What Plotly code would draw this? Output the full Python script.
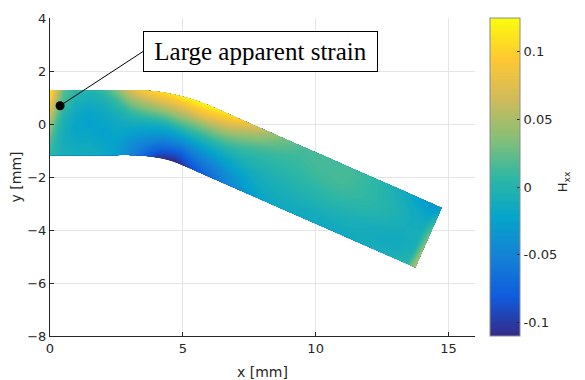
import numpy as np
import plotly.graph_objects as go

# ---- specimen centreline (mm) ----
center_x = [0.0, 0.25, 0.5, 1.0, 1.5, 2.0, 2.5, 3.05, 3.489, 3.927, 4.359, 4.786,
            5.204, 5.613, 6.477, 7.340, 8.204, 9.068, 9.932, 10.795, 11.659,
            12.523, 13.386, 13.95, 14.25]
center_y = [0.055, 0.055, 0.055, 0.055, 0.055, 0.055, 0.055, 0.055, 0.040, -0.006,
            -0.081, -0.186, -0.320, -0.483, -0.863, -1.243, -1.624, -2.004,
            -2.384, -2.764, -3.144, -3.525, -3.905, -4.153, -4.285]
half_width = 1.23
across = [-1.0, -2 / 3, -1 / 3, 0.0, 1 / 3, 2 / 3, 1.0]   # bottom edge -> top edge

# ---- H_xx at each station, bottom edge -> top edge ----
hxx_by_station = [
    [0.005, 0.015, 0.03, 0.05, 0.075, 0.095, 0.115],
    [0.0, 0.0, 0.005, 0.015, 0.03, 0.05, 0.07],
    [-0.005, -0.01, -0.01, -0.005, 0.005, 0.015, 0.025],
    [-0.01, -0.015, -0.02, -0.02, -0.015, -0.005, 0.005],
    [-0.01, -0.015, -0.02, -0.025, -0.02, -0.01, 0.0],
    [-0.015, -0.02, -0.025, -0.02, -0.015, -0.005, 0.01],
    [-0.025, -0.025, -0.02, -0.015, -0.005, 0.01, 0.035],
    [-0.05, -0.04, -0.025, -0.01, 0.01, 0.04, 0.075],
    [-0.065, -0.05, -0.03, -0.01, 0.02, 0.055, 0.095],
    [-0.085, -0.06, -0.035, -0.01, 0.025, 0.065, 0.105],
    [-0.105, -0.07, -0.04, -0.01, 0.03, 0.07, 0.11],
    [-0.11, -0.075, -0.04, -0.005, 0.035, 0.075, 0.118],
    [-0.11, -0.075, -0.04, 0.0, 0.035, 0.08, 0.122],
    [-0.095, -0.065, -0.035, 0.0, 0.035, 0.08, 0.12],
    [-0.07, -0.05, -0.025, 0.0, 0.03, 0.065, 0.105],
    [-0.045, -0.03, -0.015, 0.0, 0.015, 0.04, 0.07],
    [-0.025, -0.015, -0.008, 0.0, 0.008, 0.02, 0.035],
    [-0.015, -0.01, -0.005, 0.003, 0.008, 0.012, 0.018],
    [-0.015, -0.01, -0.002, 0.005, 0.012, 0.015, 0.016],
    [-0.015, -0.01, -0.002, 0.007, 0.013, 0.016, 0.016],
    [-0.015, -0.01, -0.005, 0.003, 0.008, 0.008, 0.008],
    [-0.01, -0.012, -0.01, -0.003, 0.0, -0.002, -0.006],
    [-0.005, -0.012, -0.012, -0.01, -0.01, -0.015, -0.025],
    [0.005, -0.003, -0.008, -0.008, -0.012, -0.022, -0.035],
    [0.06, 0.05, 0.04, 0.03, 0.015, -0.005, -0.035],
]

cbar_ticks = [-0.1, -0.05, 0, 0.05, 0.1]
cbar_ticktext = ["-0.1", "-0.05", "0", "0.05", "0.1"]
hxx_min, hxx_max = -0.11, 0.125

marker_point = (0.38, 0.69)
label_anchor = (3.5, 2.735)
label_text = "Large apparent strain"

parula = [
    [0.0, "#352a87"], [0.125, "#0f5cdd"], [0.25, "#1481d6"], [0.375, "#06a4ca"],
    [0.5, "#2eb7a4"], [0.625, "#87bf77"], [0.75, "#d1bb59"], [0.875, "#fec832"],
    [1.0, "#f9fb0e"],
]

# ---- build curvilinear grid ----
cx = np.array(center_x)
cy = np.array(center_y)
tx = np.gradient(cx)
ty = np.gradient(cy)
nrm = np.hypot(tx, ty)
tx, ty = tx / nrm, ty / nrm
nx, ny = -ty, tx
t = np.array(across)[:, None] * half_width
X = cx[None, :] + t * nx[None, :]
Y = cy[None, :] + t * ny[None, :]
Z = np.array(hxx_by_station).T

a_idx = list(range(len(center_x)))
b_idx = list(range(len(across)))

hidden_axis = dict(showgrid=False, showline=False, showticklabels="none",
                   startline=False, endline=False, minorgridcount=0)

fig = go.Figure()
fig.add_trace(go.Carpet(a=a_idx, b=b_idx, x=X.tolist(), y=Y.tolist(),
                        carpet="strip", aaxis=hidden_axis, baxis=hidden_axis))
fig.add_trace(go.Contourcarpet(
    a=a_idx, b=b_idx, z=Z.tolist(), carpet="strip",
    autocontour=False,
    contours=dict(start=hxx_min, end=hxx_max, size=0.002, coloring="fill",
                  showlines=False),
    line=dict(width=0),
    colorscale=parula, zmin=hxx_min, zmax=hxx_max,
    colorbar=dict(
        x=1.035, xanchor="left", xpad=0, y=0.5, yanchor="middle", ypad=0,
        len=1.0, thickness=30, outlinecolor="#8c8c8c", outlinewidth=1,
        tickvals=cbar_ticks, ticktext=cbar_ticktext, ticks="inside",
        ticklen=3, tickcolor="#262626",
        tickfont=dict(family="DejaVu Sans", size=13, color="#262626"),
    ),
))
fig.add_trace(go.Scatter(x=[marker_point[0]], y=[marker_point[1]], mode="markers",
                         marker=dict(color="black", size=9), showlegend=False,
                         hoverinfo="skip"))

fig.add_shape(type="line", xref="x", yref="y",
              x0=marker_point[0], y0=marker_point[1],
              x1=label_anchor[0], y1=label_anchor[1],
              line=dict(color="black", width=1))
fig.add_annotation(x=label_anchor[0], y=label_anchor[1], xref="x", yref="y",
                   xanchor="left", yanchor="middle", text=label_text,
                   showarrow=False, font=dict(family="Liberation Serif", size=25,
                                              color="black"),
                   bgcolor="white", bordercolor="black", borderwidth=1,
                   width=231, height=37, align="center")
fig.add_annotation(x=1.232, y=0.484, xref="paper", yref="paper",
                   text="H<sub>xx</sub>", textangle=-90, showarrow=False,
                   font=dict(family="DejaVu Sans", size=13, color="#262626"))

axis_common = dict(showgrid=True, gridcolor="#e5e5e5", gridwidth=1,
                   zeroline=False, showline=True, linecolor="#262626",
                   linewidth=1, ticks="inside", ticklen=4, tickcolor="#262626",
                   tickfont=dict(family="DejaVu Sans", size=13, color="#262626"),
                   mirror=False, automargin=False)
fig.update_xaxes(range=[0, 16], tickvals=[0, 5, 10, 15],
                 title=dict(text="x [mm]", standoff=12,
                            font=dict(family="DejaVu Sans", size=14, color="#262626")),
                 **axis_common)
fig.update_yaxes(range=[-8, 4], tickvals=[-8, -6, -4, -2, 0, 2, 4],
                 title=dict(text="y [mm]", standoff=4,
                            font=dict(family="DejaVu Sans", size=14, color="#262626")),
                 **axis_common)
# the page body adds an 8px offset, so the figure is 8px smaller on each side
fig.update_layout(width=577, height=372,
                  margin=dict(l=42, r=110, t=10, b=44, autoexpand=False),
                  plot_bgcolor="white", paper_bgcolor="white",
                  showlegend=False)
fig.write_html("out.html")
